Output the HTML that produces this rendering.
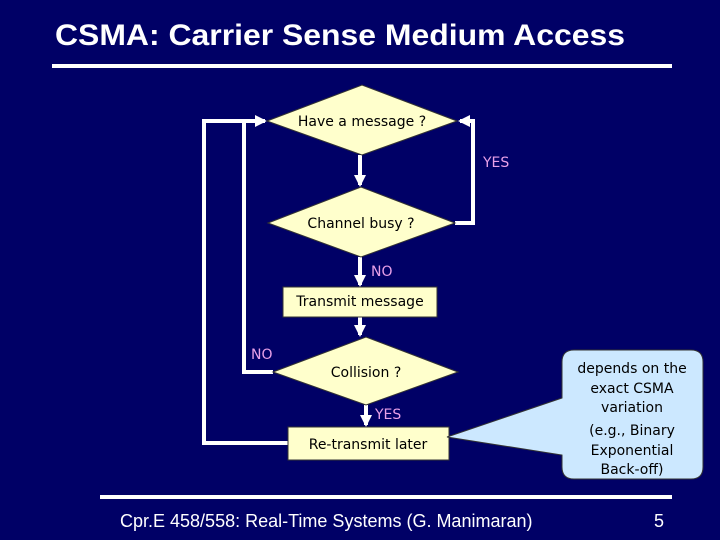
<!DOCTYPE html>
<html><head><style>
body{margin:0;background:#000066;}
svg{display:block}
.t{font-family:"DejaVu Sans",sans-serif;font-size:14px;fill:#000;}
.l{font-family:"DejaVu Sans",sans-serif;font-size:14px;fill:#e8a0e8;}
</style></head><body>
<svg width="720" height="540" viewBox="0 0 720 540">
<rect width="720" height="540" fill="#000066"/>
<text x="55" y="45" font-family="Liberation Sans,sans-serif" font-size="30" font-weight="bold" fill="#fff" textLength="570" lengthAdjust="spacingAndGlyphs">CSMA: Carrier Sense Medium Access</text>
<rect x="52" y="64" width="620" height="4" fill="#fff"/>
<rect x="100" y="495" width="572" height="4" fill="#fff"/>
<text x="120" y="527" font-family="Liberation Sans,sans-serif" font-size="18" fill="#fff">Cpr.E 458/558: Real-Time Systems (G. Manimaran)</text>
<text x="654" y="527" font-family="Liberation Sans,sans-serif" font-size="18" fill="#fff">5</text>
<defs><marker id="a" markerWidth="3" markerHeight="3" refX="2.5" refY="1.5" orient="auto" markerUnits="strokeWidth"><path d="M0,0L3,1.5L0,3z" fill="#fff"/></marker></defs>
<g stroke="#fff" stroke-width="4" fill="none">
<polyline points="288,443 204,443 204,121 265,121" marker-end="url(#a)"/>
<polyline points="273,372 244,372 244,121"/>
<polyline points="455,223 473,223 473,121 460,121" marker-end="url(#a)"/>
<line x1="360" y1="155" x2="360" y2="185" marker-end="url(#a)"/>
<line x1="360" y1="257" x2="360" y2="285" marker-end="url(#a)"/>
<line x1="360" y1="317" x2="360" y2="335" marker-end="url(#a)"/>
<line x1="366" y1="405" x2="366" y2="425" marker-end="url(#a)"/>
</g>
<g fill="#ffffcc" stroke="#333" stroke-width="1">
<polygon points="267,121 362,85 457,121 362,155"/>
<polygon points="268,223 361,187 455,223 361,257"/>
<rect x="283" y="287" width="154" height="30"/>
<polygon points="273,372 366,337 458,372 366,405"/>
<rect x="288" y="427" width="161" height="33"/>
</g>
<text class="t" x="362" y="126" text-anchor="middle">Have a message ?</text>
<text class="t" x="361" y="228" text-anchor="middle">Channel busy ?</text>
<text class="t" x="360" y="306" text-anchor="middle">Transmit message</text>
<text class="t" x="366" y="377" text-anchor="middle">Collision ?</text>
<text class="t" x="368" y="449" text-anchor="middle">Re-transmit later</text>
<text class="l" x="483" y="167">YES</text>
<text class="l" x="371" y="276">NO</text>
<text class="l" x="251" y="359">NO</text>
<text class="l" x="375" y="419">YES</text>
<path d="M574,350 H691 Q703,350 703,362 V467 Q703,479 691,479 H574 Q562,479 562,467 V455 L447,437 L562,398 V362 Q562,350 574,350Z" fill="#cce8ff" stroke="#333" stroke-width="1"/>
<g class="t" text-anchor="middle">
<text x="632" y="373">depends on the</text>
<text x="632" y="393">exact CSMA</text>
<text x="632" y="412">variation</text>
<text x="632" y="435">(e.g., Binary</text>
<text x="632" y="455">Exponential</text>
<text x="632" y="474">Back-off)</text>
</g>
</svg>
</body></html>
